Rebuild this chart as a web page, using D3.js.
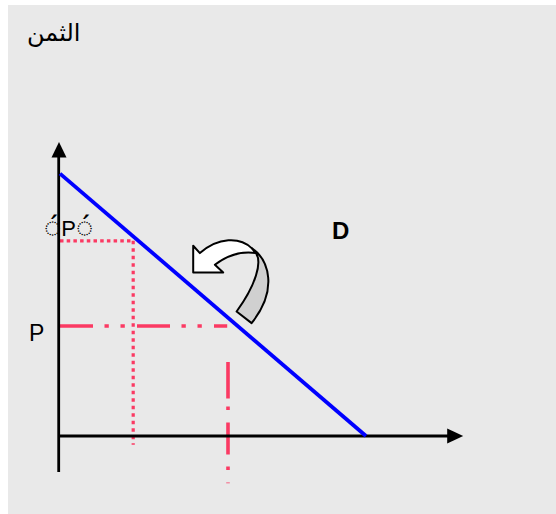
<!DOCTYPE html>
<html>
<head>
<meta charset="utf-8">
<script src="https://cdn.jsdelivr.net/npm/d3@7"></script>
<style>
  html, body { margin: 0; padding: 0; background: #fff; }
  svg { display: block; }
</style>
</head>
<body>
<div id="chart"></div>
<script>
// demand curve end points (quantity, price)
const demandLine = [
  { q: 0, p: 6.56 },
  { q: 7.65, p: 0 }
];
// price levels: old price P' and new price P
const priceLevels = [
  { name: "old", label: "P", p: 4.88, q: 1.83, qEnd: 1.83, vFrom: 4.88, vTo: -0.22 },
  { name: "new", label: "P", p: 2.75, q: 4.2, qEnd: 4.18, vFrom: 1.85, vTo: -1.18 }
];
const axisLimits = { qMax: 10.08, pMax: 7.35, pMin: -0.9 };
const titleText = "الثمن";
const curveLabel = "D";
const markGlyph = "\u25CC\u0301";

const width = 556, height = 514;
const origin = { x: 60, y: 436 };

const svg = d3.select("#chart").append("svg")
  .attr("width", width)
  .attr("height", height);

svg.append("rect")
  .attr("x", 8).attr("y", 5)
  .attr("width", width - 8).attr("height", height - 5)
  .attr("fill", "#e9e9e9");

const x = d3.scaleLinear().domain([0, 10]).range([origin.x, origin.x + 400]);
const y = d3.scaleLinear().domain([0, 10]).range([origin.y, origin.y - 400]);

const g = svg.append("g");

// guide lines
const red = "#fb3a63";
const oldP = priceLevels[0], newP = priceLevels[1];

g.append("line")
  .attr("x1", x(0)).attr("x2", x(oldP.qEnd))
  .attr("y1", y(oldP.p)).attr("y2", y(oldP.p))
  .attr("stroke", red).attr("stroke-width", 3.2)
  .attr("stroke-dasharray", "3.5 3.2");
g.append("line")
  .attr("x1", x(oldP.q)).attr("x2", x(oldP.q))
  .attr("y1", y(oldP.vFrom)).attr("y2", y(oldP.vTo))
  .attr("stroke", red).attr("stroke-width", 3.2)
  .attr("stroke-dasharray", "3.5 4");

g.append("line")
  .attr("x1", x(0)).attr("x2", x(newP.qEnd))
  .attr("y1", y(newP.p)).attr("y2", y(newP.p))
  .attr("stroke", red).attr("stroke-width", 3.6)
  .attr("stroke-dasharray", "33 11.5 4.3 11.7 4.3 12.2");
g.append("line")
  .attr("x1", x(newP.q)).attr("x2", x(newP.q))
  .attr("y1", y(newP.vFrom)).attr("y2", y(newP.vTo))
  .attr("stroke", red).attr("stroke-width", 3.6)
  .attr("stroke-dasharray", "36.5 8 3.5 12.5 32 12 3.5 12.5 3.5 20");

// axes
g.append("line")
  .attr("x1", x(0) - 1.3).attr("x2", x(0) - 1.3)
  .attr("y1", y(axisLimits.pMin)).attr("y2", y(axisLimits.pMax) + 10)
  .attr("stroke", "#000").attr("stroke-width", 2.8);
g.append("line")
  .attr("x1", x(0)).attr("x2", x(axisLimits.qMax) - 10)
  .attr("y1", y(0)).attr("y2", y(0))
  .attr("stroke", "#000").attr("stroke-width", 2.8);

const yTip = [x(0) - 1, y(axisLimits.pMax)];
g.append("path")
  .attr("d", `M${yTip[0]},${yTip[1]} L${yTip[0] + 7.5},${yTip[1] + 15.5} L${yTip[0] - 7.5},${yTip[1] + 15.5}Z`)
  .attr("fill", "#000");
const xTip = [x(axisLimits.qMax), y(0)];
g.append("path")
  .attr("d", `M${xTip[0]},${xTip[1]} L${xTip[0] - 16},${xTip[1] - 7.5} L${xTip[0] - 16},${xTip[1] + 7.5}Z`)
  .attr("fill", "#000");

// demand curve
g.append("path")
  .datum(demandLine)
  .attr("d", d3.line().x(d => x(d.q)).y(d => y(d.p)))
  .attr("fill", "none")
  .attr("stroke", "#0000ff")
  .attr("stroke-width", 3.8);

// curved arrow (local offsets from head anchor)
const ax = x(oldP.q) + 60, ay = y(oldP.p) + 5;
const at = (dx, dy) => `${ax + dx},${ay + dy}`;
g.append("path")
  .attr("d",
    `M${at(58.4, 2.3)} C${at(76, 14)} ${at(85, 44)} ${at(58.4, 77.3)}` +
    ` L${at(43.4, 65.7)} C${at(63, 39)} ${at(69, 16)} ${at(62.7, 7.3)}Z`)
  .attr("fill", "#d0d0d0")
  .attr("stroke", "#000").attr("stroke-width", 2).attr("stroke-linejoin", "round");
g.append("path")
  .attr("d",
    `M${at(0, 0)} L${at(0, 26.7)} L${at(30, 26.7)} L${at(21.7, 19)}` +
    ` C${at(32, 11)} ${at(46, 5)} ${at(62.7, 7.3)}` +
    ` L${at(58.4, 2.3)} C${at(47, -9)} ${at(25, -9)} ${at(6.7, 7.3)}Z`)
  .attr("fill", "#fff")
  .attr("stroke", "#000").attr("stroke-width", 2).attr("stroke-linejoin", "round");

// labels
svg.append("text")
  .attr("x", 27).attr("y", 41)
  .attr("font-family", "'DejaVu Sans', sans-serif")
  .attr("font-size", 24)
  .attr("fill", "#000")
  .text(titleText);

svg.append("text")
  .attr("x", x(0) - 31).attr("y", y(newP.p) + 15)
  .attr("font-family", "'Liberation Sans', Arial, sans-serif")
  .attr("font-size", 23)
  .text(newP.label);

const oldLabel = svg.append("text")
  .attr("x", x(0) - 16).attr("y", y(oldP.p) - 5)
  .attr("font-family", "'Liberation Sans', sans-serif")
  .attr("font-size", 22);
oldLabel.append("tspan").attr("font-family", "'Noto Sans'").attr("font-size", 29).attr("dy", 1.5).text(markGlyph);
oldLabel.append("tspan").attr("dy", -1.5).text(oldP.label);
oldLabel.append("tspan").attr("font-family", "'Noto Sans'").attr("font-size", 29).attr("dy", 1.5).text(markGlyph);

svg.append("text")
  .attr("x", 332).attr("y", 239)
  .attr("font-family", "'Liberation Sans', Arial, sans-serif")
  .attr("font-weight", "bold")
  .attr("font-size", 24)
  .text(curveLabel);
</script>
</body>
</html>
